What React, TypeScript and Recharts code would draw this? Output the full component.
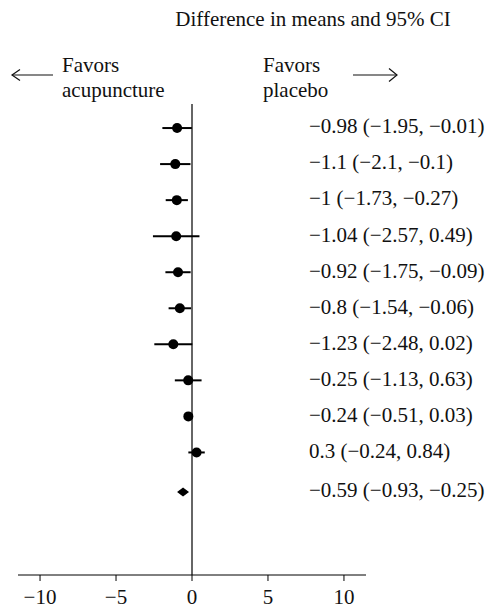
import { ScatterChart, Scatter, XAxis, YAxis, ErrorBar, ReferenceLine } from "recharts";

// study rows, top to bottom
const rows = [1, 2, 3, 4, 5, 6, 7, 8, 9, 10];
const means = [-0.98, -1.1, -1, -1.04, -0.92, -0.8, -1.23, -0.25, -0.24, 0.3];
const lows = [-1.95, -2.1, -1.73, -2.57, -1.75, -1.54, -2.48, -1.13, -0.51, -0.24];
const highs = [-0.01, -0.1, -0.27, 0.49, -0.09, -0.06, 0.02, 0.63, 0.03, 0.84];

// pooled estimate (diamond)
const pooledRow = 11.1;
const pooledMean = -0.59;
const pooledLow = -0.93;
const pooledHigh = -0.25;

const xTicks = [-10, -5, 0, 5, 10];

const FONT = "'Liberation Serif', 'Times New Roman', serif";
const FS = 21;

const fmt = (v: number) => String(v).replace("-", "\u2212");
const ciLabel = (m: number, lo: number, hi: number) => `${fmt(m)} (${fmt(lo)}, ${fmt(hi)})`;

const studies = rows.map((r, i) => ({
  x: means[i],
  y: r,
  err: [means[i] - lows[i], highs[i] - means[i]],
}));
const pooled = [{ x: pooledMean, y: pooledRow }];

const labelRows = [...rows, pooledRow];
const labels = [
  ...rows.map((_, i) => ciLabel(means[i], lows[i], highs[i])),
  ciLabel(pooledMean, pooledLow, pooledHigh),
];

const Dot = (props: any) => <circle cx={props.cx} cy={props.cy} r={5} fill="#000" />;

const Diamond = (props: any) => {
  const { cx, cy } = props;
  return <polygon points={`${cx - 6},${cy} ${cx},${cy - 4.5} ${cx + 6},${cy} ${cx},${cy + 4.5}`} fill="#000" />;
};

const LabelTick = (props: any) => {
  const { x, y, index } = props;
  return (
    <text x={x - 65} y={y - 2} dy="0.35em" fontFamily={FONT} fontSize={FS} fill="#111" textAnchor="start">
      {labels[index]}
    </text>
  );
};

const App = () => {
  return (
    <div style={{ position: "relative", width: 487, height: 603 }}>
      <ScatterChart width={487} height={603} margin={{ top: 84, right: 0, left: 10, bottom: 6 }}>
        <XAxis
          type="number"
          dataKey="x"
          domain={[-11.45, 11.45]}
          ticks={xTicks}
          allowDataOverflow
          height={30}
          tickSize={6}
          tickMargin={8}
          stroke="#000"
          tick={{ fill: "#111", fontFamily: FONT, fontSize: FS }}
          tickFormatter={fmt}
        />
        <YAxis
          type="number"
          dataKey="y"
          orientation="right"
          reversed
          domain={[0, 13.4]}
          ticks={labelRows}
          width={129}
          axisLine={false}
          tickLine={false}
          tick={<LabelTick />}
        />
        <ReferenceLine
          segment={[{ x: 0, y: 0.33 }, { x: 0, y: 13.4 }]}
          stroke="#333"
          strokeWidth={1.5}
          ifOverflow="visible"
        />
        <Scatter data={studies} shape={<Dot />} isAnimationActive={false}>
          <ErrorBar dataKey="err" direction="x" width={0} stroke="#000" strokeWidth={2} />
        </Scatter>
        <Scatter data={pooled} shape={<Diamond />} isAnimationActive={false} />
      </ScatterChart>
      <svg
        width={487}
        height={110}
        style={{ position: "absolute", left: 0, top: 0, pointerEvents: "none", overflow: "visible" }}
        fontFamily={FONT}
        fontSize={FS}
        fill="#111"
      >
        <text x={305} y={18} textAnchor="middle">Difference in means and 95% CI</text>
        <text x={54} y={64}>Favors</text>
        <text x={54} y={89}>acupuncture</text>
        <text x={255} y={64}>Favors</text>
        <text x={255} y={89}>placebo</text>
        <line x1={4} y1={67} x2={45} y2={67} stroke="#111" strokeWidth={1.2} />
        <path d="M 12 61.5 L 4 67 L 12 72.5" stroke="#111" strokeWidth={1.2} fill="none" />
        <line x1={345} y1={67} x2={389} y2={67} stroke="#111" strokeWidth={1.2} />
        <path d="M 381 60.5 L 389 67 L 381 73.5" stroke="#111" strokeWidth={1.2} fill="none" />
      </svg>
    </div>
  );
};

export default App;
